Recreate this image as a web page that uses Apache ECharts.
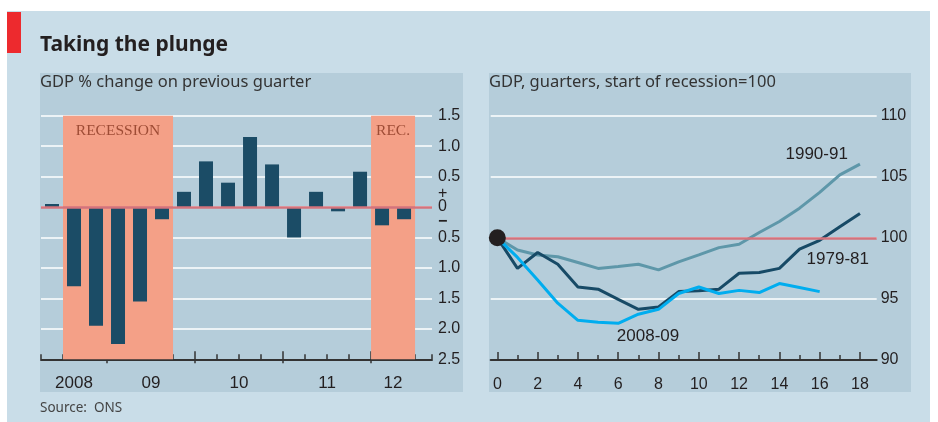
<!DOCTYPE html>
<html>
<head>
<meta charset="utf-8">
<script src="https://cdn.jsdelivr.net/npm/echarts@6/dist/echarts.min.js"></script>
<style>
  html, body { margin: 0; padding: 0; background: #fff; }
  #chart { width: 938px; height: 422px; }
</style>
</head>
<body>
<div id="chart"></div>
<script>
// left panel: GDP % change on previous quarter, 2008 Q2 - 2012 Q2
const quarters = ['2008Q2', '2008Q3', '2008Q4', '2009Q1', '2009Q2', '2009Q3', '2009Q4',
    '2010Q1', '2010Q2', '2010Q3', '2010Q4', '2011Q1', '2011Q2', '2011Q3', '2011Q4',
    '2012Q1', '2012Q2'];
const gdpChange = [0.05, -1.3, -1.95, -2.25, -1.55, -0.2, 0.25, 0.75, 0.4, 1.15, 0.7,
    -0.5, 0.25, -0.07, 0.58, -0.3, -0.2];
const yearNames = ['2008', '09', '10', '11', '12'];
const quartersPerYear = [3, 4, 4, 4, 2];
// recession spans as quarter index ranges [first, after last]
const recessions = [[1, 6, 'RECESSION'], [15, 17, 'REC.']];
const leftTickLabels = ['2.5', '2.0', '1.5', '1.0', '0.5', '0', '0.5', '1.0', '1.5'];

// right panel: GDP, quarters since start of recession = 100
const quartersSince = [0, 1, 2, 3, 4, 5, 6, 7, 8, 9, 10, 11, 12, 13, 14, 15, 16, 17, 18];
const gdp1979 = [100, 97.5, 98.8, 97.84, 95.98, 95.8, 94.97, 94.15, 94.34, 95.6, 95.66,
    95.8, 97.1, 97.16, 97.5, 99.07, 99.8, 100.9, 102.0];
const gdp1990 = [100, 99.0, 98.6, 98.45, 97.98, 97.5, 97.65, 97.84, 97.38, 98.03, 98.6,
    99.2, 99.48, 100.44, 101.34, 102.43, 103.72, 105.16, 106.04];
const gdp2008 = [100, 98.4, 96.55, 94.65, 93.25, 93.1, 93.0, 93.75, 94.15, 95.44, 95.98,
    95.44, 95.7, 95.52, 96.26, 95.93, 95.6];
const rightTickLabels = ['90', '95', '100', '105', '110'];

const dark = '#231f20';
const sans = '"Liberation Sans", Arial, sans-serif';

// year boundaries and label centres from quarter counts
const yearEdges = [0];
quartersPerYear.forEach(n => yearEdges.push(yearEdges[yearEdges.length - 1] + n));
const majorTicks = yearEdges.slice(1, -1);
const yearCentres = yearNames.map((_, i) => (yearEdges[i] + yearEdges[i + 1]) / 2);

const evenQuarters = quartersSince.filter(q => q % 2 === 0);

const chart = echarts.init(document.getElementById('chart'));

const baseX = {
    type: 'value',
    position: 'bottom',
    splitLine: { show: false },
    axisLine: { show: false, onZero: false },
    axisTick: { show: false },
    axisLabel: { show: false }
};

chart.setOption({
    animation: false,
    graphic: [
        { type: 'rect', z: -10, shape: { x: 7, y: 11, width: 923, height: 411 }, style: { fill: '#c9dde8' } },
        { type: 'rect', z: -9, shape: { x: 7, y: 12, width: 14, height: 41 }, style: { fill: '#ed2a2e' } },
        { type: 'rect', z: -9, shape: { x: 40, y: 73, width: 423, height: 319 }, style: { fill: '#b5cdda' } },
        { type: 'rect', z: -9, shape: { x: 489, y: 73, width: 422, height: 319 }, style: { fill: '#b5cdda' } },
        { type: 'text', z: 5, style: { text: 'Taking the plunge', x: 40, y: 45, verticalAlign: 'middle',
            font: 'bold 21px "Noto Sans", sans-serif', fill: dark } },
        { type: 'text', z: 5, style: { text: 'GDP % change on previous guarter', x: 40, y: 82, verticalAlign: 'middle',
            font: '16.5px "Noto Sans", sans-serif', fill: '#333' } },
        { type: 'text', z: 5, style: { text: 'GDP, guarters, start of recession=100', x: 489, y: 82, verticalAlign: 'middle',
            font: '16.5px "Noto Sans", sans-serif', fill: '#333' } },
        { type: 'text', z: 5, style: { text: 'Source:  ONS', x: 40, y: 408, verticalAlign: 'middle',
            font: '13.5px "Noto Sans", sans-serif', fill: '#444' } }
    ],
    grid: [
        { left: 41, top: 115.7, width: 391, height: 243.6 },
        { left: 490.7, top: 115.7, width: 386, height: 244.3 }
    ],
    xAxis: [
        // left: minor quarter ticks
        Object.assign({}, baseX, {
            gridIndex: 0, min: 0, max: 17.77, interval: 1,
            axisLine: { show: true, onZero: false, lineStyle: { color: '#333', width: 2 } },
            axisTick: { show: true, inside: true, length: 5, lineStyle: { color: '#333', width: 1.5 } }
        }),
        // left: year ticks (upper part)
        Object.assign({}, baseX, {
            gridIndex: 0, min: 0, max: 17.77,
            axisTick: { show: true, inside: true, length: 8, customValues: majorTicks,
                lineStyle: { color: '#333', width: 1.5 } }
        }),
        // left: year ticks (lower part) and year labels
        Object.assign({}, baseX, {
            gridIndex: 0, min: 0, max: 17.77,
            axisTick: { show: true, inside: false, length: 4, customValues: majorTicks,
                lineStyle: { color: '#333', width: 1.5 } },
            axisLabel: { show: true, customValues: yearCentres, margin: 16,
                formatter: v => yearNames[yearCentres.indexOf(v)] || '',
                fontFamily: sans, fontSize: 17, color: dark }
        }),
        // right: quarter ticks
        Object.assign({}, baseX, {
            gridIndex: 1, min: -0.33, max: 18.83,
            axisLine: { show: true, onZero: false, lineStyle: { color: '#333', width: 2 } },
            axisTick: { show: true, inside: true, length: 5, customValues: quartersSince,
                lineStyle: { color: '#333', width: 1.5 } }
        }),
        // right: even ticks and labels
        Object.assign({}, baseX, {
            gridIndex: 1, min: -0.33, max: 18.83,
            axisTick: { show: true, inside: true, length: 8, customValues: evenQuarters,
                lineStyle: { color: '#333', width: 1.5 } },
            axisLabel: { show: true, customValues: evenQuarters, margin: 17,
                fontFamily: sans, fontSize: 16, color: dark }
        })
    ],
    yAxis: [
        {
            type: 'value', gridIndex: 0, position: 'right', min: -2.5, max: 1.5, interval: 0.5,
            axisLine: { show: false }, axisTick: { show: false },
            splitLine: { lineStyle: { color: '#fff', width: 1.5 } },
            axisLabel: {
                margin: 6, fontFamily: sans, fontSize: 16, color: dark,
                formatter: v => {
                    const label = leftTickLabels[Math.round((v + 2.5) / 0.5)];
                    return v === 0 ? '{s|+}\n{z|' + label + '}\n{m|−}' : label;
                },
                rich: {
                    s: { fontFamily: sans, fontSize: 16, lineHeight: 15, color: dark, padding: [4, 0, 0, 0] },
                    z: { fontFamily: sans, fontSize: 16, lineHeight: 15, color: dark },
                    m: { fontFamily: sans, fontSize: 16, fontWeight: 'bold', lineHeight: 15, color: dark }
                }
            }
        },
        {
            type: 'value', gridIndex: 1, position: 'right', min: 90, max: 110, interval: 5,
            axisLine: { show: false }, axisTick: { show: false },
            splitLine: { lineStyle: { color: '#fff', width: 1.5 } },
            axisLabel: {
                margin: 4, fontFamily: sans, fontSize: 16, color: dark,
                formatter: v => rightTickLabels[Math.round((v - 90) / 5)]
            }
        }
    ],
    series: [
        {
            type: 'bar', name: 'GDP change', xAxisIndex: 0, yAxisIndex: 0,
            barWidth: 14, silent: true,
            itemStyle: { color: '#1b4c66' },
            data: gdpChange.map((v, i) => [i + 0.5, v, quarters[i]]),
            markArea: {
                silent: true,
                itemStyle: { color: '#f4a087' },
                label: { show: true, position: 'insideTop', distance: 7,
                    fontFamily: '"Liberation Serif", "DejaVu Serif", serif', fontSize: 15.5, color: '#9e4c35' },
                data: recessions.map(([a, b, name]) => [{ name: name, xAxis: a, yAxis: 1.5 }, { xAxis: b, yAxis: -2.5 }])
            },
            markLine: {
                silent: true, symbol: 'none', label: { show: false },
                lineStyle: { color: '#d4737c', width: 2.5, type: 'solid' },
                data: [{ yAxis: 0 }]
            }
        },
        {
            type: 'line', name: '1990-91', xAxisIndex: 3, yAxisIndex: 1,
            showSymbol: false, silent: true,
            lineStyle: { color: '#5e97a9', width: 3 },
            data: gdp1990.map((v, i) => [quartersSince[i], v]),
            markLine: {
                silent: true, symbol: 'none', label: { show: false },
                lineStyle: { color: '#d4737c', width: 2.5, type: 'solid' },
                data: [{ yAxis: 100 }]
            },
            markPoint: {
                silent: true, symbol: 'circle', symbolSize: 0,
                label: { show: true, formatter: '1990-91', fontFamily: sans, fontSize: 17, color: dark },
                data: [{ coord: [15.85, 106.86] }]
            }
        },
        {
            type: 'line', name: '1979-81', xAxisIndex: 3, yAxisIndex: 1,
            showSymbol: false, silent: true,
            lineStyle: { color: '#174a66', width: 3 },
            data: gdp1979.map((v, i) => [quartersSince[i], v]),
            markPoint: {
                silent: true, symbol: 'circle', symbolSize: 0,
                label: { show: true, formatter: '1979-81', fontFamily: sans, fontSize: 17, color: dark },
                data: [{ coord: [16.9, 98.28] }]
            }
        },
        {
            type: 'line', name: '2008-09', xAxisIndex: 3, yAxisIndex: 1,
            showSymbol: false, silent: true,
            lineStyle: { color: '#00adef', width: 3 },
            data: gdp2008.map((v, i) => [quartersSince[i], v]),
            markPoint: {
                silent: true, symbol: 'circle', symbolSize: 0,
                label: { show: true, formatter: '2008-09', fontFamily: sans, fontSize: 17, color: dark },
                data: [{ coord: [7.48, 91.97] }]
            }
        },
        {
            type: 'scatter', name: 'start', xAxisIndex: 3, yAxisIndex: 1,
            silent: true, symbolSize: 17, z: 5,
            itemStyle: { color: dark, opacity: 1 },
            data: [[quartersSince[0], 100]]
        }
    ]
});
</script>
</body>
</html>
